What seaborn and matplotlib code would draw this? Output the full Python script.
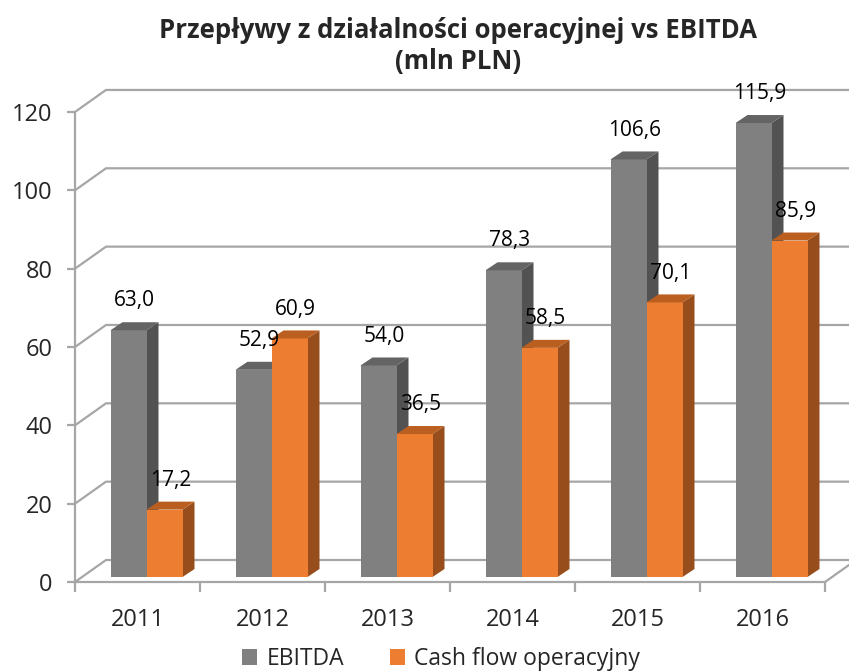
import pandas as pd
import matplotlib
matplotlib.use("Agg")
import matplotlib.pyplot as plt
from matplotlib.patches import Polygon
import seaborn as sns

# Dane (mln PLN)
years = ["2011", "2012", "2013", "2014", "2015", "2016"]
ebitda = [63.0, 52.9, 54.0, 78.3, 106.6, 115.9]
cash_flow = [17.2, 60.9, 36.5, 58.5, 70.1, 85.9]
series = ["EBITDA", "Cash flow operacyjny"]
y_ticks = [0, 20, 40, 60, 80, 100, 120]

df = pd.DataFrame({"rok": years * 2,
                   "wartosc": ebitda + cash_flow,
                   "seria": [series[0]] * 6 + [series[1]] * 6})

sns.set_style("white")
plt.rcParams["font.family"] = ["Open Sans", "DejaVu Sans"]

front = ["#808080", "#ED7D31"]
top_col = ["#646464", "#BA5F1F"]
side_col = ["#525252", "#974E1C"]
grid_col = "#a6a6a6"

fig = plt.figure(figsize=(8.49, 6.71), dpi=100)
# osie: x -0.5 -> 75px, 125px na kategorie; y 0 -> 582px, 3.917px na jednostke
ax = fig.add_axes([75 / 849, 1 - 600 / 671, 774 / 849, 520 / 671])

sns.barplot(data=df, x="rok", y="wartosc", hue="seria", palette=front,
            width=0.576, saturation=1, linewidth=0, ax=ax, legend=True)

ax.set_xlim(-0.5, -0.5 + 774 / 125)
ax.set_ylim(-18 / 3.917, 502 / 3.917)

# przesuniecia efektu 3D
wall_dx, wall_dy = 31 / 125, 22 / 3.917
bar_dx, bar_dy = 12 / 125, 8 / 3.917
shift_x, base_y = 9 / 125, 5 / 3.917

# tylna sciana - linie siatki
for v in y_ticks:
    ax.plot([-0.5, -0.5 + wall_dx, 6.5], [v, v + wall_dy, v + wall_dy],
            color=grid_col, lw=1.6, zorder=1, solid_capstyle="butt")
# prawa krawedz podlogi
ax.plot([5.5, 5.5 + wall_dx], [0, wall_dy], color=grid_col, lw=1.6,
        zorder=1, clip_on=False)

for i, cont in enumerate(ax.containers):
    z = 2 + i
    for bar in cont.patches:
        bar.set_x(bar.get_x() + shift_x)
        bar.set_y(base_y)
        bar.set_zorder(z + 0.5)
        x0 = bar.get_x()
        x1 = x0 + bar.get_width()
        y0 = base_y
        y1 = base_y + bar.get_height()
        side = Polygon([(x1, y0), (x1 + bar_dx, y0 + bar_dy),
                        (x1 + bar_dx, y1 + bar_dy), (x1, y1)],
                       closed=True, color=side_col[i], lw=0, zorder=z)
        top = Polygon([(x0, y1), (x1, y1), (x1 + bar_dx, y1 + bar_dy),
                       (x0 + bar_dx, y1 + bar_dy)],
                      closed=True, color=top_col[i], lw=0, zorder=z + 0.5)
        ax.add_patch(side)
        ax.add_patch(top)
        label = f"{bar.get_height():.1f}".replace(".", ",")
        ax.text((x0 + x1) / 2 + bar_dx / 2, y1 + 7.5, label,
                ha="center", va="center", fontsize=15, color="#000000",
                zorder=10)

# osie
for s in ["top", "right"]:
    ax.spines[s].set_visible(False)
ax.spines["left"].set_bounds(0, 120)
ax.spines["left"].set_color(grid_col)
ax.spines["left"].set_linewidth(1.6)
ax.spines["bottom"].set_position(("data", 0))
ax.spines["bottom"].set_bounds(-0.5, 5.5)
ax.spines["bottom"].set_color(grid_col)
ax.spines["bottom"].set_linewidth(1.6)

ax.set_yticks(y_ticks)
ax.set_yticklabels([str(t) for t in y_ticks], fontsize=17)
ax.tick_params(axis="y", length=6, width=1.6, color=grid_col, pad=10,
               direction="out", left=True)
ax.set_xticks(range(len(years)))
ax.set_xticklabels(years, fontsize=17)
ax.set_xticks([i - 0.5 for i in range(len(years) + 1)], minor=True)
ax.tick_params(axis="x", which="major", length=0, pad=19, bottom=True)
ax.tick_params(axis="x", which="minor", length=7, width=1.6,
               color=grid_col, direction="out", bottom=True)
ax.set_xlabel("")
ax.set_ylabel("")
ax.grid(False)

fig.text(458 / 849, 1 - 46 / 671,
         "Przepływy z działalności operacyjnej vs EBITDA\n(mln PLN)",
         ha="center", va="center", fontsize=18.5, fontweight="bold",
         linespacing=1.2)

sns.move_legend(ax, "center", ncol=2, frameon=False, title=None,
                fontsize=16.5, handlelength=0.65, handleheight=0.65,
                columnspacing=2.0, handletextpad=0.4)
ax.get_legend().set_bbox_to_anchor((441 / 849, 1 - 659 / 671),
                                   transform=fig.transFigure)

fig.savefig("out.png", dpi=100)
